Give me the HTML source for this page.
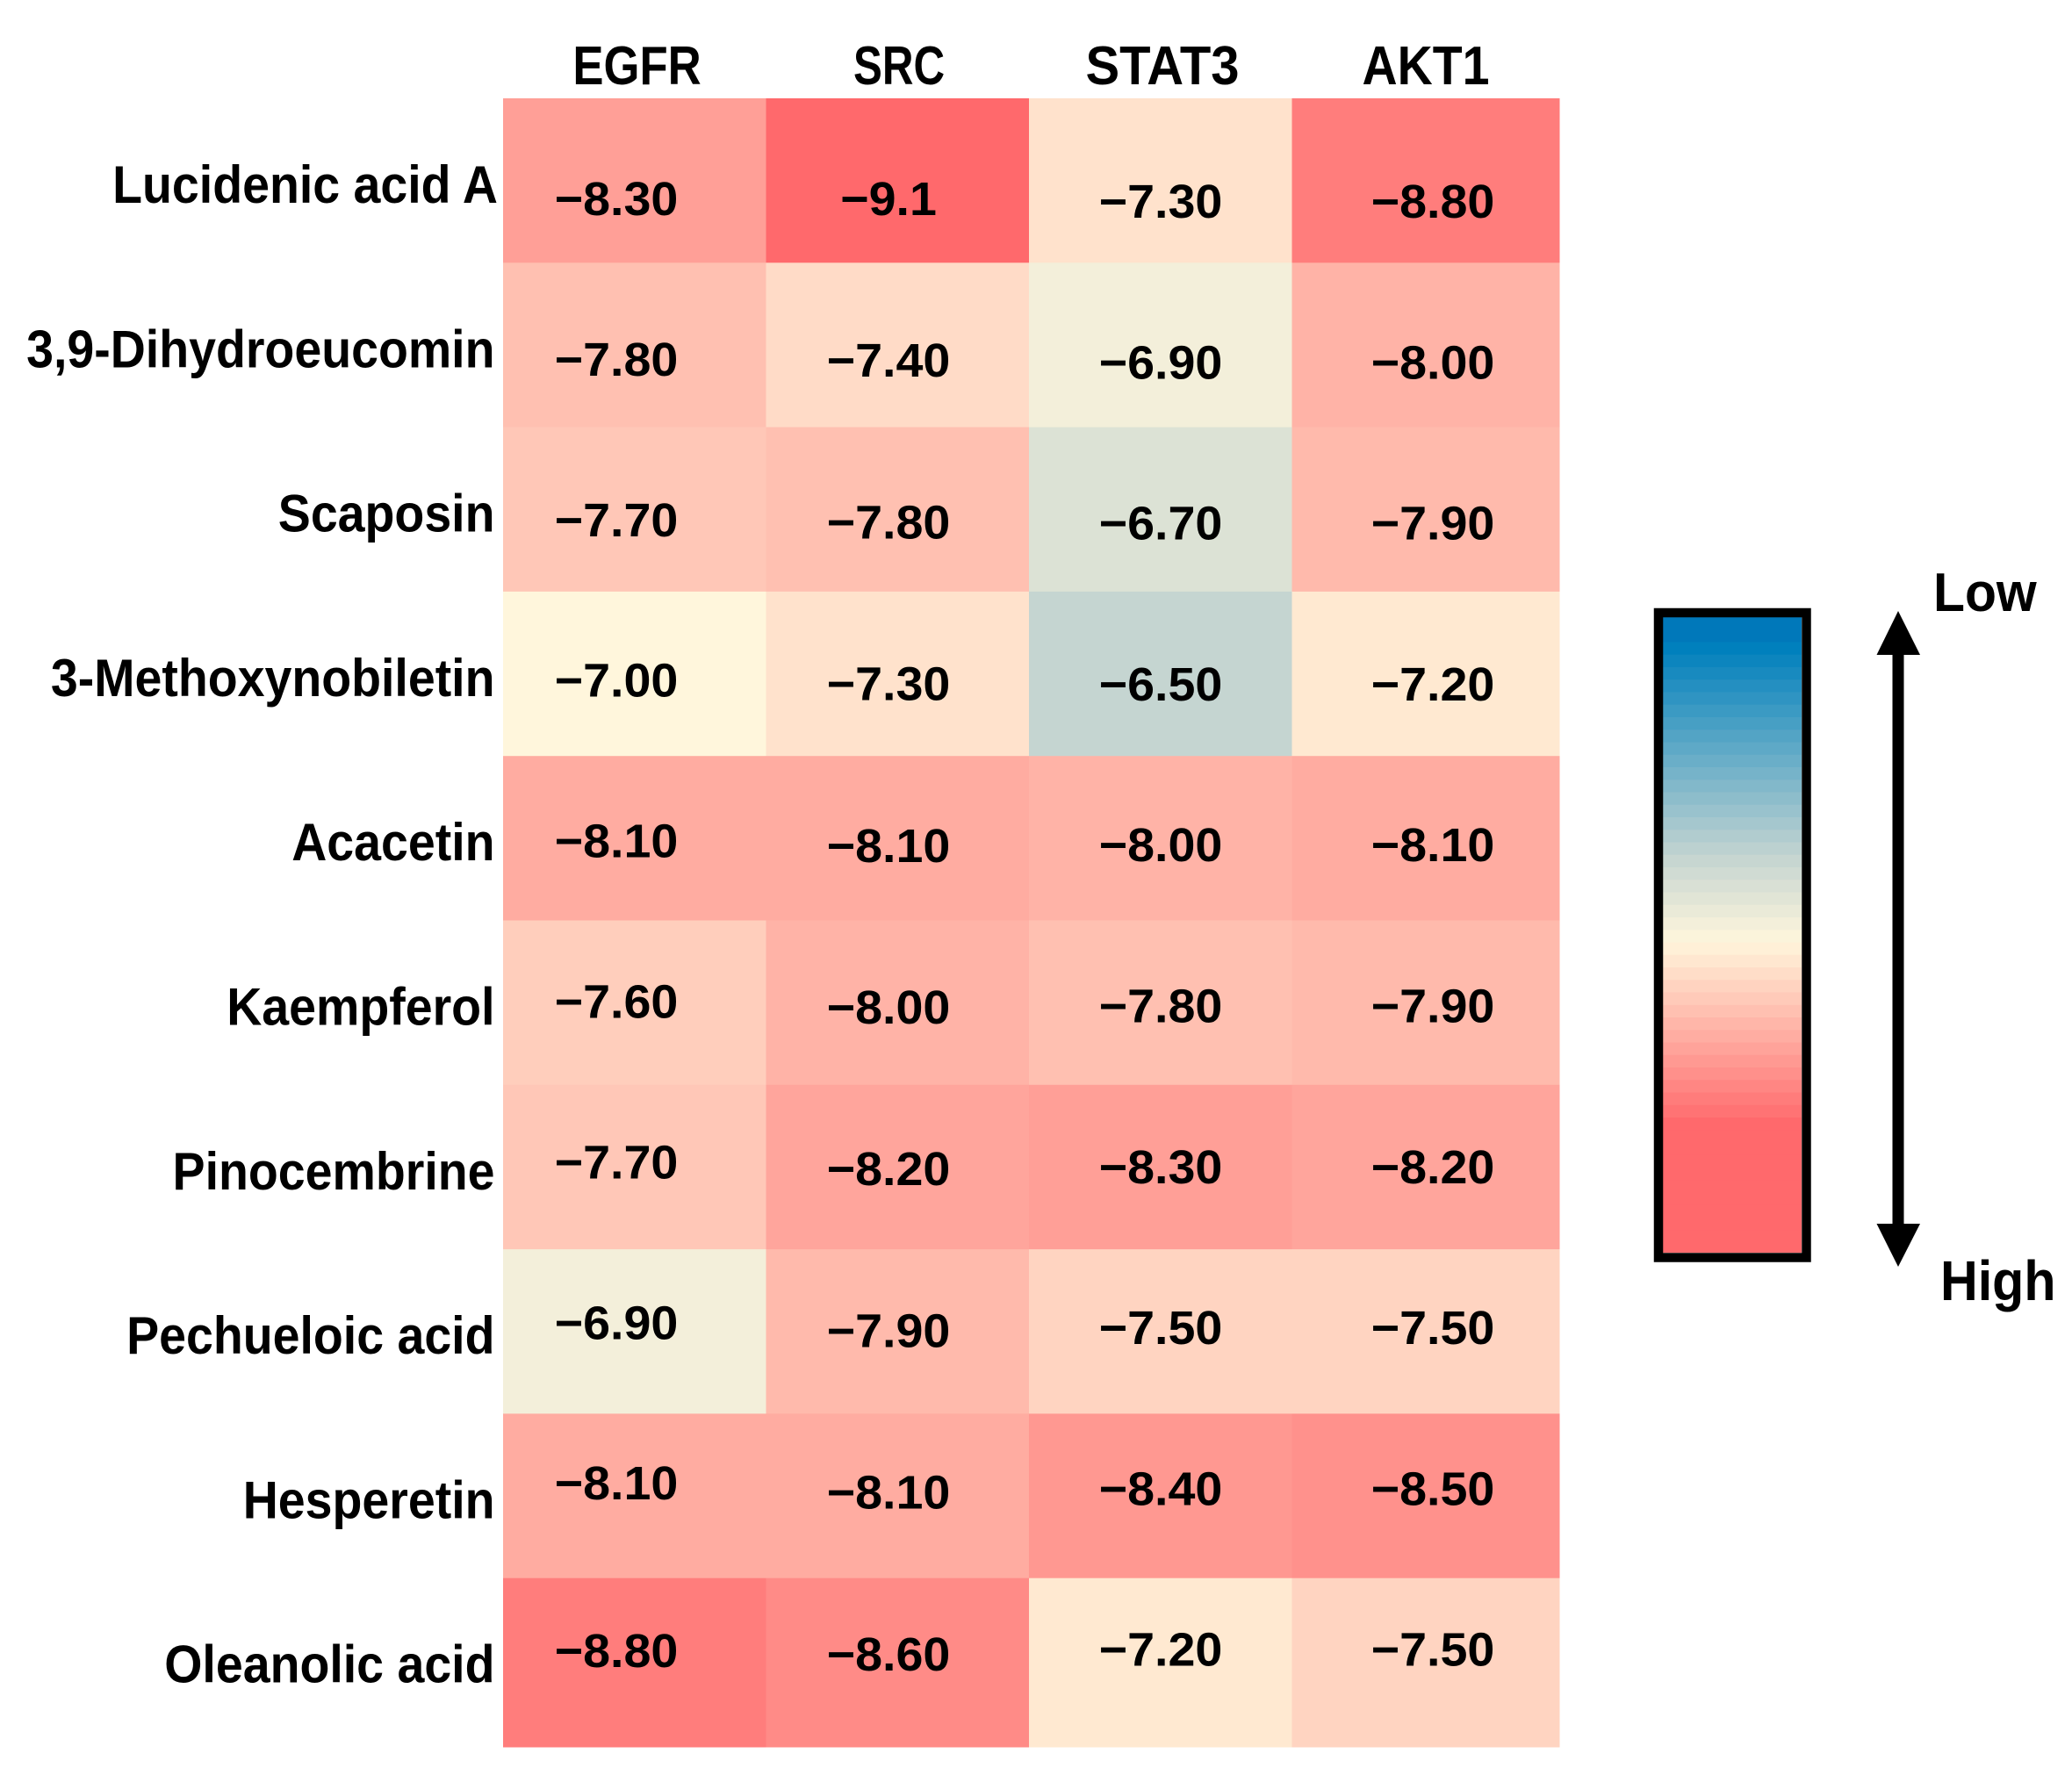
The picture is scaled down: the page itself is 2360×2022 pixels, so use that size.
<!DOCTYPE html>
<html lang="en">
<head>
<meta charset="utf-8">
<title>Docking score heatmap</title>
<style>
html,body{margin:0;padding:0;background:#fff;}
svg{display:block;}
text{font-family:"Liberation Sans",sans-serif;font-weight:bold;fill:#000;}
</style>
</head>
<body>
<svg id="chart" xmlns="http://www.w3.org/2000/svg" width="2360" height="2022" viewBox="0 0 2360 2022">
  <rect width="2360" height="2022" fill="#fff"/>
  <g id="cells"></g>
  <g id="values"></g>
  <g id="cols"></g>
  <g id="rows"></g>
  <g id="bands"></g>
  <rect x="1889" y="698" width="168.5" height="734.5" fill="none" stroke="#000" stroke-width="10.5"/>
  <g>
    <rect x="2155.5" y="740" width="13" height="660" fill="#000"/>
    <polygon points="2162,696 2187,746 2137.5,746" fill="#000"/>
    <polygon points="2162,1443 2187,1394 2137.5,1394" fill="#000"/>
  </g>
  <text transform="translate(2202,696) scale(0.95,1)" font-size="62">Low</text>
  <text transform="translate(2210,1481) scale(0.925,1)" font-size="64">High</text>
</svg>
<script>
const compounds = ["Lucidenic acid A","3,9-Dihydroeucomin","Scaposin","3-Methoxynobiletin","Acacetin","Kaempferol","Pinocembrine","Pechueloic acid","Hesperetin","Oleanolic acid"];
const targets = ["EGFR","SRC","STAT3","AKT1"];
const egfrScores = [-8.30,-7.80,-7.70,-7.00,-8.10,-7.60,-7.70,-6.90,-8.10,-8.80];
const srcScores = [-9.1,-7.40,-7.80,-7.30,-8.10,-8.00,-8.20,-7.90,-8.10,-8.60];
const stat3Scores = [-7.30,-6.90,-6.70,-6.50,-8.00,-7.80,-8.30,-7.50,-8.40,-7.20];
const akt1Scores = [-8.80,-8.00,-7.90,-7.20,-8.10,-7.90,-8.20,-7.50,-8.50,-7.50];
const scoreLabels = [
  ["−8.30","−7.80","−7.70","−7.00","−8.10","−7.60","−7.70","−6.90","−8.10","−8.80"],
  ["−9.1","−7.40","−7.80","−7.30","−8.10","−8.00","−8.20","−7.90","−8.10","−8.60"],
  ["−7.30","−6.90","−6.70","−6.50","−8.00","−7.80","−8.30","−7.50","−8.40","−7.20"],
  ["−8.80","−8.00","−7.90","−7.20","−8.10","−7.90","−8.20","−7.50","−8.50","−7.50"]
];
const scoreSeries = [egfrScores, srcScores, stat3Scores, akt1Scores];

const SVGNS = "http://www.w3.org/2000/svg";
const plot = {left:573, right:1776, top:112, bottom:1990};
const colStep = 299.5, rowStep = 187.3;
const xScale = function(c){ return c >= targets.length ? plot.right : plot.left + c * colStep; };
const yScale = function(r){ return r >= compounds.length ? plot.bottom : plot.top + r * rowStep; };

const hotColor = [255,105,108], midColor = [255,246,220], greyColor = [197,213,209], coldColor = [0,128,189];
const scoreMin = -9.1, scoreMid = -7.0, scoreGrey = -6.5, scoreMax = -5.24;
function mix(a,b,t){
  return "rgb(" + a.map(function(v,i){ return Math.round(v + (b[i]-v)*t); }).join(",") + ")";
}
function colorFor(v){
  if (v <= scoreMid) {
    const t = Math.max(0,(v-scoreMin)/(scoreMid-scoreMin));
    return mix(hotColor, midColor, t);
  }
  if (v <= scoreGrey) {
    return mix(midColor, greyColor, (v-scoreMid)/(scoreGrey-scoreMid));
  }
  const t = Math.min(1,(v-scoreGrey)/(scoreMax-scoreGrey));
  return mix(greyColor, coldColor, t);
}

/* hand-placed value text: per-column centre, first baseline and row step */
const valueCenter = [702,1012,1322,1632];
const valueBase = [245,245,248,248];
const valueStep = [182.9,184.2,183.3,183.3];
function valueBaseline(c,r){
  let y = valueBase[c] + valueStep[c]*r;
  if (c === 0 && r === compounds.length-1) y += 8;
  return y;
}

const cellsG = document.getElementById("cells");
const valuesG = document.getElementById("values");
scoreSeries.forEach(function(series,c){
  series.forEach(function(v,r){
    const rect = document.createElementNS(SVGNS,"rect");
    rect.setAttribute("x", xScale(c));
    rect.setAttribute("y", yScale(r));
    rect.setAttribute("width", xScale(c+1) - xScale(c) + 0.5);
    rect.setAttribute("height", yScale(r+1) - yScale(r) + 0.5);
    rect.setAttribute("fill", colorFor(v));
    
    
    cellsG.appendChild(rect);

    const t = document.createElementNS(SVGNS,"text");
    t.setAttribute("transform","translate(" + valueCenter[c] + "," + valueBaseline(c,r) + ") scale(1.03,1)");
    t.setAttribute("text-anchor","middle");
    t.setAttribute("font-size","54");
    t.textContent = scoreLabels[c][r];
    
    
    valuesG.appendChild(t);
  });
});

const colCenter = [725.5,1024,1324,1624];
const colStretch = [0.85,0.795,0.935,0.895];
const colsG = document.getElementById("cols");
targets.forEach(function(name,c){
  const t = document.createElementNS(SVGNS,"text");
  t.setAttribute("transform","translate(" + colCenter[c] + ",96) scale(" + colStretch[c] + ",1)");
  t.setAttribute("text-anchor","middle");
  t.setAttribute("font-size","62");
  t.textContent = name;
  
  
  colsG.appendChild(t);
});

const rowsG = document.getElementById("rows");
compounds.forEach(function(name,r){
  const t = document.createElementNS(SVGNS,"text");
  const rightEdge = r === 0 ? 567 : 563.5;
  t.setAttribute("transform","translate(" + rightEdge + "," + (231 + 187.3*r) + ") scale(0.925,1)");
  t.setAttribute("text-anchor","end");
  t.setAttribute("font-size","60");
  t.textContent = name;
  
  
  rowsG.appendChild(t);
});

/* colour bar: stepped ramp from blue through cream into a solid red block */
const bandsG = document.getElementById("bands");
const barTop = 703, barBottom = 1427, barRedStart = 1273, barMid = 1065, bandH = 14.25;
const barBlueEnd = barTop + 28;
function barColor(y){
  if (y < barBlueEnd) return "rgb(0,120,186)";
  if (y >= barRedStart - 1) return mix(hotColor, hotColor, 0);
  if (y < barMid) {
    const f = (barMid - y) / (barMid - barBlueEnd);
    return colorFor(scoreMid + f * (scoreMax - scoreMid));
  }
  return mix(midColor, hotColor, (y-barMid)/(barRedStart-barMid));
}
for (let y = barTop; y < barBottom; y += bandH) {
  const b = document.createElementNS(SVGNS,"rect");
  b.setAttribute("x", 1894);
  b.setAttribute("y", y);
  b.setAttribute("width", 158);
  b.setAttribute("height", Math.min(bandH + 0.5, barBottom - y));
  b.setAttribute("fill", barColor(y));
  
  
  bandsG.appendChild(b);
}
</script>
</body>
</html>
